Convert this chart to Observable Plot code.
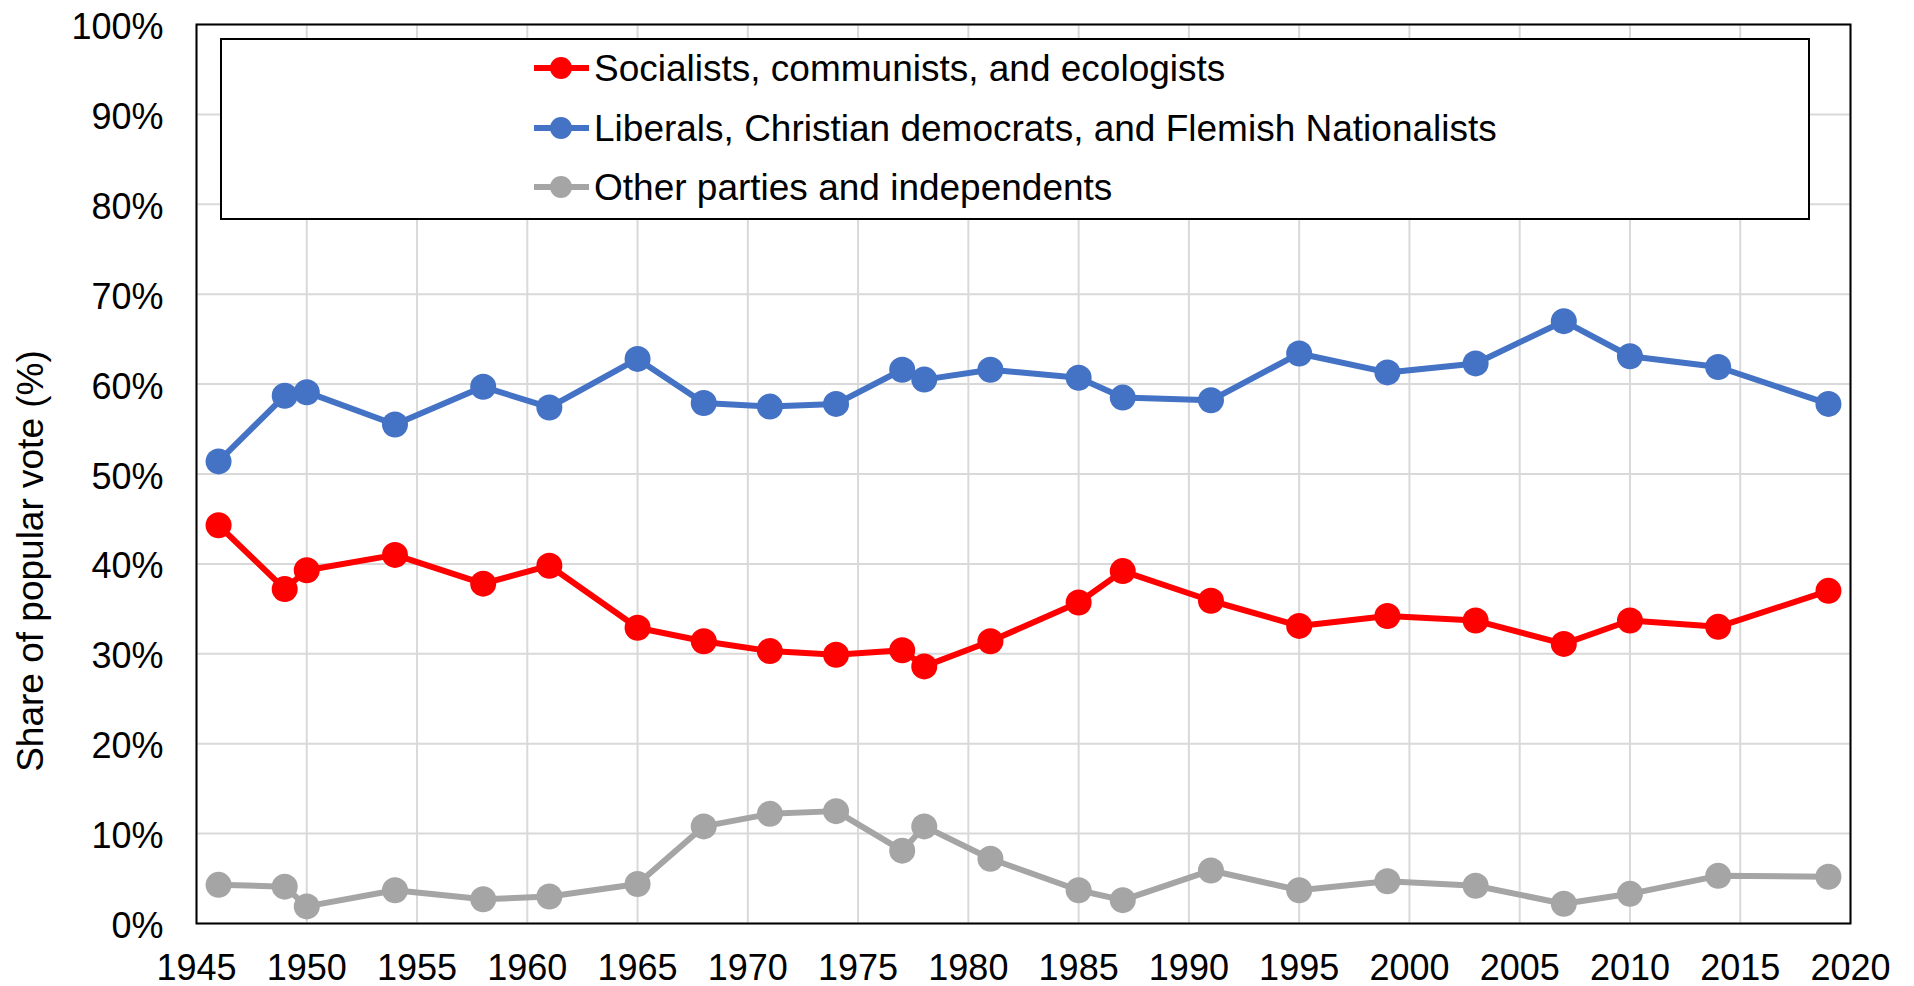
<!DOCTYPE html>
<html>
<head>
<meta charset="utf-8">
<script src="https://cdn.jsdelivr.net/npm/d3@7"></script>
<script src="https://cdn.jsdelivr.net/npm/@observablehq/plot@0.6"></script>
<style>
html, body { margin: 0; padding: 0; background: #ffffff; }
#chart svg { display: block; }
</style>
</head>
<body>
<div id="chart"></div>
<script>
const years = [1946, 1949, 1950, 1954, 1958, 1961, 1965, 1968, 1971, 1974, 1977, 1978, 1981, 1985, 1987, 1991, 1995, 1999, 2003, 2007, 2010, 2014, 2019];
const socialists = [44.3, 37.2, 39.3, 41.0, 37.8, 39.8, 32.9, 31.4, 30.3, 29.9, 30.4, 28.6, 31.4, 35.7, 39.2, 35.9, 33.1, 34.2, 33.7, 31.1, 33.7, 33.0, 37.0];
const liberals = [51.4, 58.7, 59.1, 55.5, 59.7, 57.4, 62.8, 57.9, 57.5, 57.8, 61.6, 60.5, 61.6, 60.7, 58.5, 58.2, 63.4, 61.3, 62.3, 67.0, 63.1, 61.9, 57.8];
const others = [4.3, 4.1, 1.9, 3.7, 2.7, 3.0, 4.4, 10.8, 12.2, 12.5, 8.1, 10.8, 7.2, 3.7, 2.6, 5.9, 3.7, 4.7, 4.2, 2.2, 3.3, 5.3, 5.2];
const seriesNames = [
  "Socialists, communists, and ecologists",
  "Liberals, Christian democrats, and Flemish Nationalists",
  "Other parties and independents"
];
const seriesColors = ["#ff0000", "#4472c4", "#a5a5a5"];
const xTicks = [1945, 1950, 1955, 1960, 1965, 1970, 1975, 1980, 1985, 1990, 1995, 2000, 2005, 2010, 2015, 2020];
const yTicks = [0, 10, 20, 30, 40, 50, 60, 70, 80, 90, 100];
const yTitle = "Share of popular vote (%)";

const FONT = "'Liberation Sans', Arial, Helvetica, sans-serif";

const data = [];
[socialists, liberals, others].forEach((vals, i) => {
  vals.forEach((v, j) => data.push({year: years[j], value: v, series: seriesNames[i]}));
});

const W = 1914, H = 986;
const mL = 196, mR = 64, mT = 24, mB = 63;

const plot = Plot.plot({
  width: W,
  height: H,
  marginLeft: mL,
  marginRight: mR,
  marginTop: mT,
  marginBottom: mB,
  style: {fontFamily: FONT, fontSize: "36px", color: "#000", background: "#fff", overflow: "visible"},
  x: {domain: [1945, 2020]},
  y: {domain: [0, 100]},
  color: {domain: seriesNames, range: seriesColors},
  marks: [
    Plot.gridX(xTicks, {stroke: "#d9d9d9", strokeOpacity: 1, strokeWidth: 2}),
    Plot.gridY(yTicks, {stroke: "#d9d9d9", strokeOpacity: 1, strokeWidth: 2}),
    Plot.axisX(xTicks, {tickSize: 0, tickPadding: 31, tickFormat: d => String(d), label: null, fontSize: 36, fill: "#000"}),
    Plot.axisY(yTicks, {tickSize: 0, tickPadding: 33, tickFormat: d => d + "%", label: null, fontSize: 36, fill: "#000", dy: 3}),
    Plot.line(data, {x: "year", y: "value", z: "series", stroke: "series", strokeWidth: 6, strokeLinejoin: "round"}),
    Plot.dot(data, {x: "year", y: "value", fill: "series", r: 13}),
    Plot.frame({stroke: "#000", strokeWidth: 2, strokeOpacity: 1})
  ]
});

const svg = d3.select(plot);

// Y-axis title
svg.append("text")
  .attr("transform", "translate(43,561) rotate(-90)")
  .attr("text-anchor", "middle")
  .attr("font-family", FONT)
  .attr("font-size", 37)
  .attr("fill", "#000")
  .text(yTitle);

// Legend box inside plot area
const lg = svg.append("g");
lg.append("rect")
  .attr("x", 221).attr("y", 39)
  .attr("width", 1588).attr("height", 180)
  .attr("fill", "#fff").attr("stroke", "#000").attr("stroke-width", 2);
const rowY = [68, 128, 187];
seriesNames.forEach((name, i) => {
  const y = rowY[i];
  lg.append("line")
    .attr("x1", 534).attr("x2", 589).attr("y1", y).attr("y2", y)
    .attr("stroke", seriesColors[i]).attr("stroke-width", 6);
  lg.append("circle")
    .attr("cx", 561).attr("cy", y).attr("r", 11)
    .attr("fill", seriesColors[i]);
  lg.append("text")
    .attr("x", 594).attr("y", y + 13)
    .attr("text-anchor", "start")
    .attr("font-family", FONT)
    .attr("font-size", 37)
    .attr("fill", "#000")
    .text(name);
});

document.getElementById("chart").appendChild(plot);
</script>
</body>
</html>
